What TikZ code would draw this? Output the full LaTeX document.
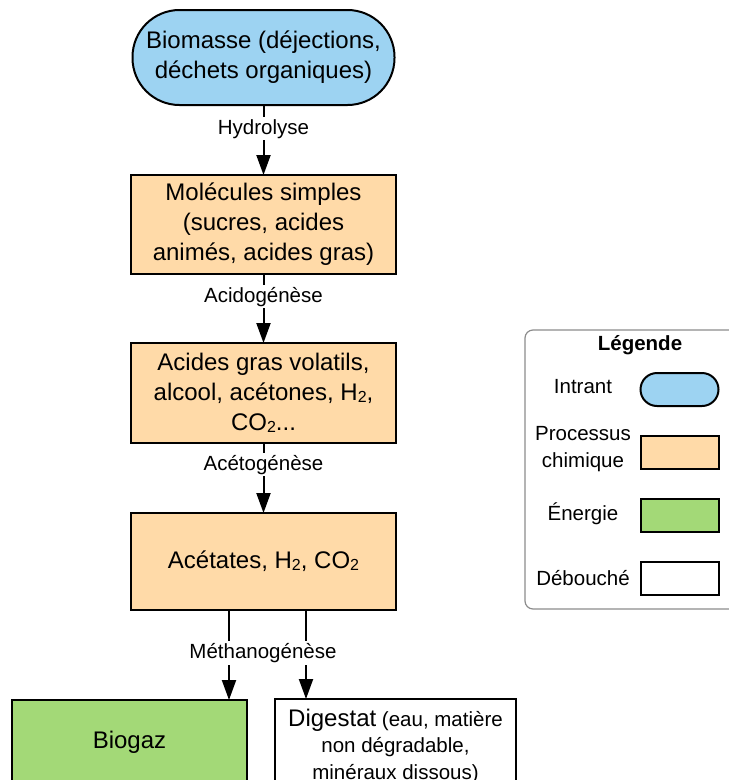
\documentclass[tikz,border=0pt]{standalone}
\usepackage{fontspec}
\setmainfont{Liberation Sans}
\usetikzlibrary{arrows.meta,calc}
\definecolor{cblue}{RGB}{157,211,242}
\definecolor{corange}{RGB}{255,218,168}
\definecolor{cgreen}{RGB}{163,217,119}
\definecolor{cgrey}{RGB}{140,140,140}
\newcommand\sbtwo{\raisebox{-1.5pt}{\fontsize{16}{16}\selectfont 2}}
\begin{document}
\begin{tikzpicture}[x=1pt,y=-1pt,
 every node/.style={inner sep=0pt, outer sep=0pt},
 mainbox/.style={draw=black, line width=2pt, align=center, font=\fontsize{24}{30}\selectfont},
 proc/.style={mainbox, fill=corange, minimum width=265pt},
 lbl/.style={fill=white, font=\fontsize{20.5}{24}\selectfont, inner sep=2pt},
 arr/.style={line width=2pt, -{Triangle[length=20pt,width=14pt]}},
 legtxt/.style={font=\fontsize{20.5}{27}\selectfont, align=center},
 legbox/.style={draw=black, line width=2pt, minimum width=78pt, minimum height=33pt}
]
\useasboundingbox (0,0) rectangle (729,780);
\clip (0,0) rectangle (729,780);

% main chain
\node[mainbox, fill=cblue, rounded corners=47pt, minimum width=262pt, minimum height=95pt] (bio) at (263.5,57.5) {Biomasse (déjections,\\déchets organiques)};
\node[proc, minimum height=99pt] (m1) at (263.5,224.5) {Molécules simples\\(sucres, acides\\animés, acides gras)};
\node[proc, minimum height=100pt] (m2) at (263.5,393) {Acides gras volatils,\\alcool, acétones, H\sbtwo,\\CO\sbtwo...};
\node[proc, minimum height=97pt] (m3) at (263.5,561.5) {Acétates, H\sbtwo, CO\sbtwo};
\node[mainbox, fill=cgreen, minimum width=235pt, minimum height=84pt] (biogaz) at (129.5,742) {Biogaz};
\node[mainbox, fill=white, minimum width=241pt, minimum height=94pt, font=\fontsize{20.5}{26.5}\selectfont] (dig) at (395.5,746) {{\fontsize{24}{26.5}\selectfont Digestat} (eau, matière\\non dégradable,\\minéraux dissous)};

\draw[arr] (bio.south) -- node[lbl, pos=0.34] (l1) {Hydrolyse} (m1.north);
\draw[arr] (m1.south) -- node[lbl, pos=0.33] (l2) {Acidogénèse} (m2.north);
\draw[arr] (m2.south) -- node[lbl, pos=0.31] (l3) {Acétogénèse} (m3.north);
\draw[arr] ([xshift=-34.5pt]m3.south) -- ([xshift=-34.5pt]m3.south |- biogaz.north);
\draw[arr] ([xshift=42.5pt]m3.south) -- ([xshift=42.5pt]m3.south |- dig.north);
\node[lbl] (l4) at (263,653) {Méthanogénèse};

% legend
\node[draw=cgrey, line width=1.2pt, rounded corners=8pt, minimum width=215pt, minimum height=279pt] (leg) at (632.5,469.5) {};
\node[font=\bfseries\fontsize{20.5}{24}\selectfont] (legt) at (640,345) {Légende};
\node[legtxt] (t1) at (583,387) {Intrant};
\node[legbox, fill=cblue, rounded corners=16.5pt] (b1) at (679.5,389.5) {};
\node[legtxt] (t2) at (583,449) {Processus\\chimique};
\node[legbox, fill=corange] (b2) at (679.5,452) {};
\node[legtxt] (t3) at (583,514) {Énergie};
\node[legbox, fill=cgreen] (b3) at (679.5,515.5) {};
\node[legtxt] (t4) at (583,578) {Débouché};
\node[legbox, fill=white] (b4) at (679.5,578.5) {};
\end{tikzpicture}
\end{document}
